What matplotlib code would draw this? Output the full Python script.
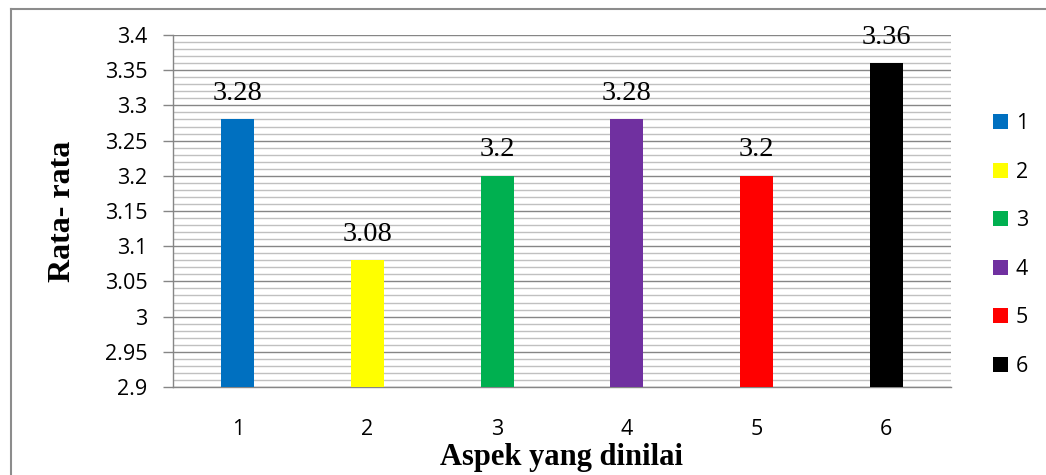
import matplotlib
matplotlib.use("Agg")
import matplotlib.pyplot as plt
from matplotlib.patches import Patch
from matplotlib.lines import Line2D
from matplotlib.ticker import MultipleLocator, FuncFormatter

# Average score per assessed aspect
aspects = ["1", "2", "3", "4", "5", "6"]
averages = [3.28, 3.08, 3.20, 3.28, 3.20, 3.36]
value_labels = ["3.28", "3.08", "3.2", "3.28", "3.2", "3.36"]
bar_colors = ["#0070C0", "#FFFF00", "#00B050", "#7030A0", "#FF0000", "#000000"]
y_ticks = [2.9, 2.95, 3.0, 3.05, 3.1, 3.15, 3.2, 3.25, 3.3, 3.35, 3.4]

W, H = 1046, 475
fig = plt.figure(figsize=(W / 100, H / 100), dpi=100)
ax = fig.add_axes([173 / W, 1 - 387 / H, (951 - 173) / W, (387 - 35) / H])

sans = "Open Sans"
serif = "Liberation Serif"
tick_size = 15.5

x = list(range(len(aspects)))
bars = ax.bar(x, averages, width=0.255, color=bar_colors, zorder=3)

for xi, v, lab in zip(x, averages, value_labels):
    ax.annotate(lab, (xi, v), xytext=(0, 14), textcoords="offset points",
                ha="center", va="baseline", fontsize=20.5, family=serif,
                color="#000000", zorder=4)

ax.set_xlim(-0.5, len(aspects) - 0.5)
ax.set_ylim(2.9, 3.4)
ax.set_yticks(y_ticks)
ax.yaxis.set_major_formatter(FuncFormatter(lambda v, p: f"{v:.2f}".rstrip("0").rstrip(".")))
ax.yaxis.set_minor_locator(MultipleLocator(0.01))
ax.set_xticks(x)
ax.set_xticklabels(aspects)

ax.grid(axis="y", which="major", color="#868686", linewidth=1.0, zorder=1)
ax.grid(axis="y", which="minor", color="#C0C0C0", linewidth=1.0, zorder=1)
ax.set_axisbelow(True)

for side in ("top", "right"):
    ax.spines[side].set_visible(False)
for side in ("left", "bottom"):
    ax.spines[side].set_color("#868686")
    ax.spines[side].set_linewidth(1.0)

ax.tick_params(axis="y", which="major", length=7, width=1.0, color="#868686",
               labelsize=tick_size, pad=11.5)
ax.tick_params(axis="y", which="minor", length=0)
ax.tick_params(axis="x", length=0, labelsize=tick_size, pad=23)
for t in ax.get_xticklabels() + ax.get_yticklabels():
    t.set_family(sans)
    t.set_color("#000000")

fig.text(63 / W, 1 - 211 / H, "Rata- rata", rotation=90, ha="center", va="center",
         fontsize=23, fontweight="bold", family=serif)
fig.text(562 / W, 1 - 457 / H, "Aspek yang dinilai", ha="center", va="center",
         fontsize=22, fontweight="bold", family=serif)

handles = [Patch(facecolor=c, edgecolor="none") for c in bar_colors]
fig.legend(handles, aspects, loc="center left", bbox_to_anchor=(993 / W, 1 - 245 / H),
           frameon=False, prop={"family": sans, "size": tick_size},
           handlelength=0.7, handleheight=0.7, handletextpad=0.35,
           labelspacing=1.28, borderpad=0, borderaxespad=0)

# outer chart border (left and top edges)
fig.add_artist(Line2D([10.5 / W, 10.5 / W], [0, 1 - 9 / H], transform=fig.transFigure,
                      color="#8C8C8C", linewidth=1.5))
fig.add_artist(Line2D([10.5 / W, 1], [1 - 9 / H, 1 - 9 / H], transform=fig.transFigure,
                      color="#8C8C8C", linewidth=1.5))

fig.savefig("out.png", dpi=100)
